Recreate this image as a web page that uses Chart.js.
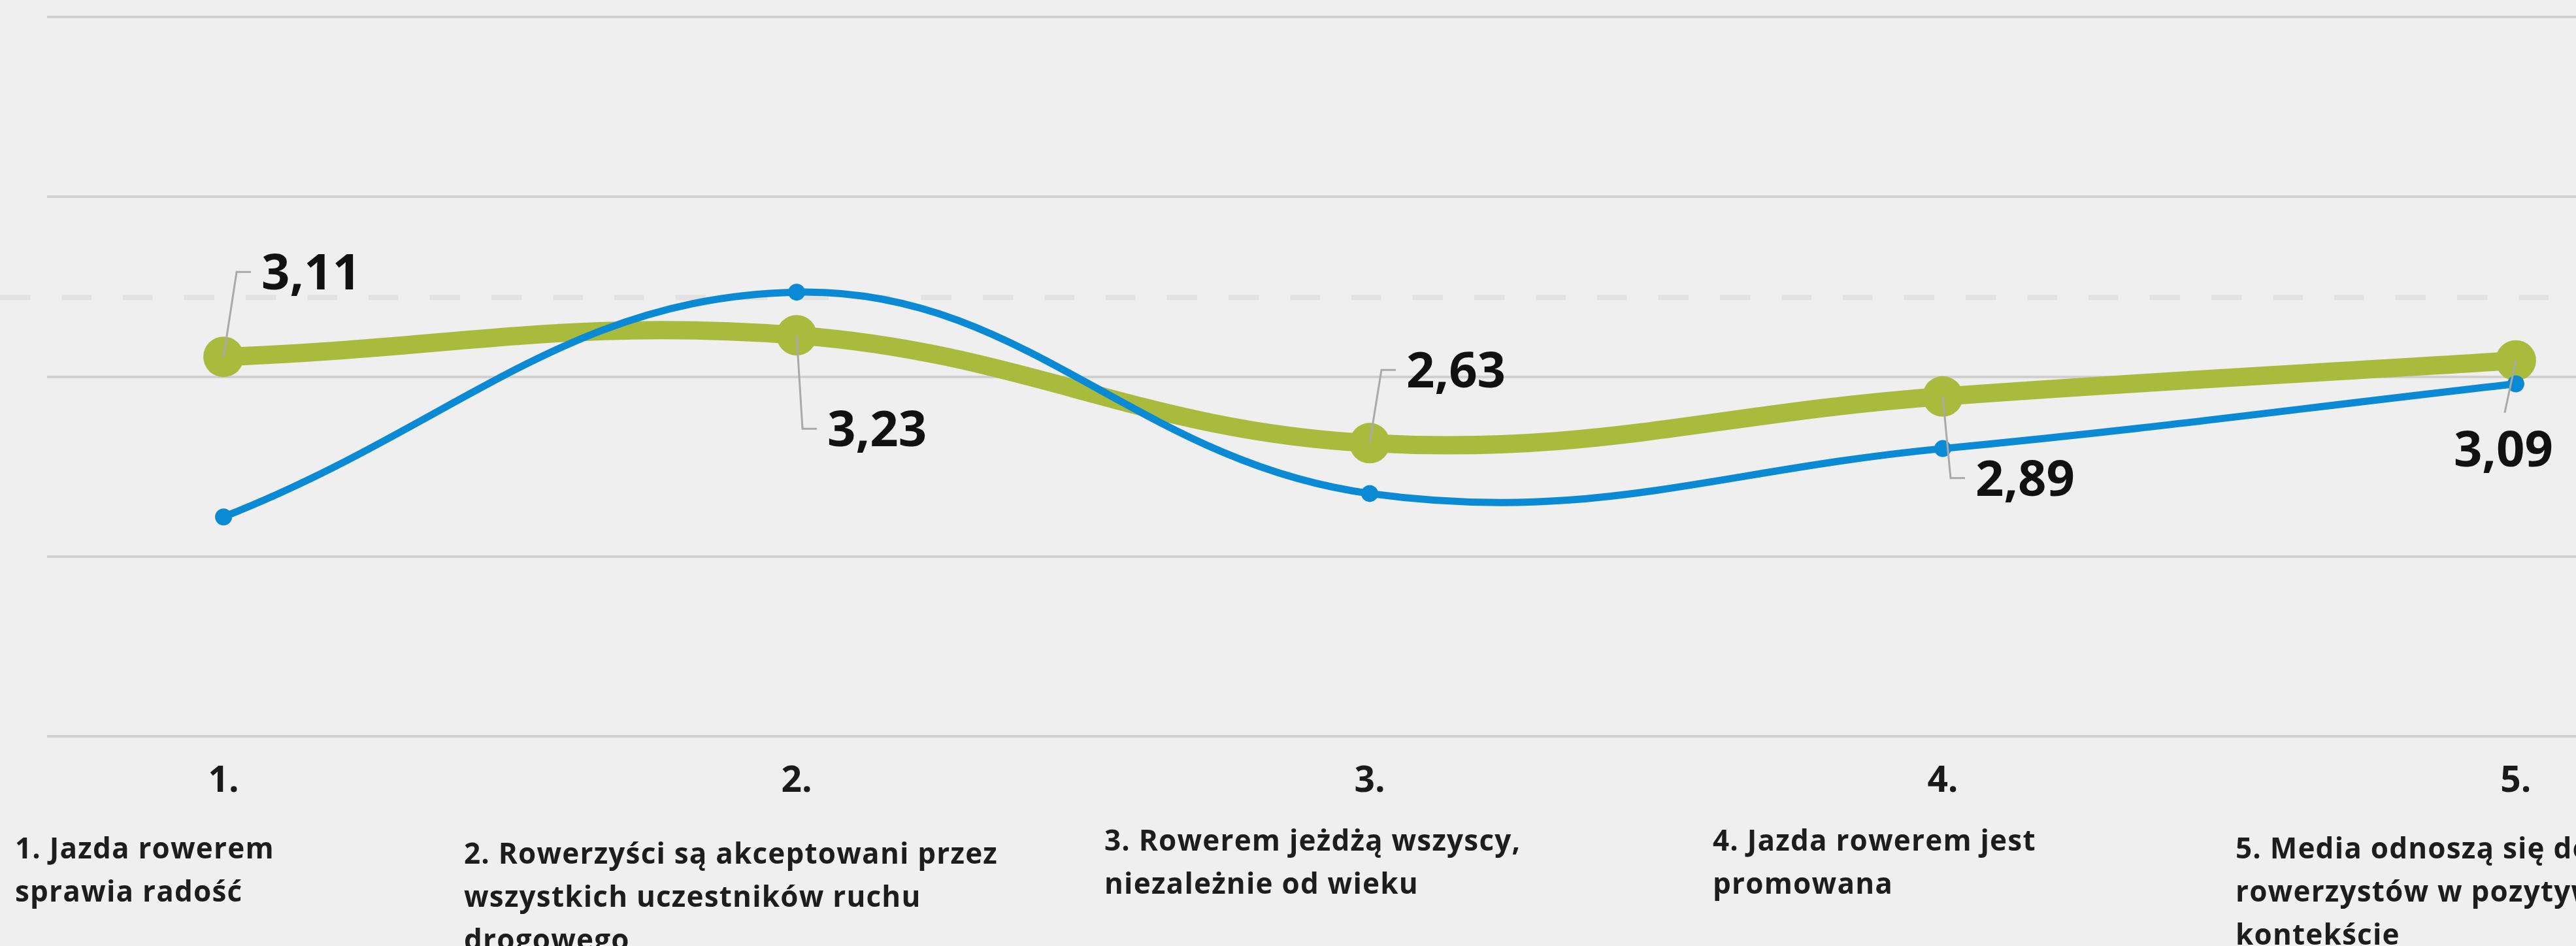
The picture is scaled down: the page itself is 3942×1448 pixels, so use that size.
<!DOCTYPE html>
<html lang="pl">
<head>
<meta charset="utf-8">
<script src="https://cdn.jsdelivr.net/npm/chart.js@4.4.1/dist/chart.umd.min.js"></script>
<style>
  html, body { margin: 0; padding: 0; background: #efefef; }
  body { width: 3942px; height: 1448px; overflow: hidden; position: relative; font-family: "Open Sans", sans-serif; }
  #wrap { position: absolute; left: 0; top: 0; width: 3942px; height: 1285px; }
  .desc { position: absolute; white-space: pre; font-size: 44px; font-weight: 700; line-height: 66px; color: #1d1d1d; letter-spacing: 1.2px; }
</style>
</head>
<body>
<div id="wrap"><canvas id="chart" width="3942" height="1285"></canvas></div>
<div id="descs"></div>
<script>
// dane
const CATEGORIES = ["1.", "2.", "3.", "4.", "5."];
const DESCRIPTIONS = [
  "1. Jazda rowerem\nsprawia radość",
  "2. Rowerzyści są akceptowani przez\nwszystkich uczestników ruchu\ndrogowego",
  "3. Rowerem jeżdżą wszyscy,\nniezależnie od wieku",
  "4. Jazda rowerem jest\npromowana",
  "5. Media odnoszą się do\nrowerzystów w pozytywnym\nkontekście",
];
const GREEN_VALUES = [3.11, 3.23, 2.63, 2.89, 3.09];
const BLUE_VALUES = [2.22, 3.47, 2.35, 2.60, 2.96];
const REFERENCE_VALUE = 3.44;

// ułożenie etykiet (odsunięcie od punktu w px)
const CALLOUTS = [
  { dx: 20, dy: -130, align: "left" },
  { dx: 9, dy: 143, align: "left" },
  { dx: 18, dy: -112, align: "left" },
  { dx: 12, dy: 125, align: "left" },
  { dx: -17, dy: 80, align: "center" },
];
const DESC_POS = [
  { left: 23, top: 1264 },
  { left: 710, top: 1272 },
  { left: 1690, top: 1252 },
  { left: 2621, top: 1252 },
  { left: 3421, top: 1264 },
];

function toPoints(values) {
  return values.map((v, i) => ({ x: i + 1, y: v }));
}

const referenceLine = {
  id: "referenceLine",
  beforeDatasetsDraw(chart) {
    const ctx = chart.ctx;
    const y = chart.scales.y.getPixelForValue(REFERENCE_VALUE);
    ctx.save();
    ctx.strokeStyle = "#e2e2e2";
    ctx.lineWidth = 8;
    ctx.setLineDash([46, 48]);
    ctx.beginPath();
    ctx.moveTo(0, y);
    ctx.lineTo(chart.width, y);
    ctx.stroke();
    ctx.restore();
  },
};

const callouts = {
  id: "callouts",
  afterDatasetsDraw(chart) {
    const ctx = chart.ctx;
    const meta = chart.getDatasetMeta(1);
    ctx.save();
    ctx.font = "700 76px 'Open Sans'";
    ctx.fillStyle = "#111";
    ctx.strokeStyle = "#a9a9a9";
    ctx.lineWidth = 3;
    ctx.textBaseline = "alphabetic";
    meta.data.forEach((pt, i) => {
      const c = CALLOUTS[i];
      const ex = pt.x + c.dx;
      const ey = pt.y + c.dy;
      const text = GREEN_VALUES[i].toFixed(2).replace(".", ",");
      ctx.beginPath();
      ctx.moveTo(pt.x, pt.y);
      ctx.lineTo(ex, ey);
      if (c.align === "left") ctx.lineTo(ex + 22, ey);
      ctx.stroke();
      if (c.align === "left") {
        ctx.textAlign = "left";
        ctx.fillText(text, ex + 38, ey + 27);
      } else {
        ctx.textAlign = "center";
        ctx.fillText(text, ex - 2, ey + 82);
      }
    });
    ctx.restore();
  },
};

new Chart(document.getElementById("chart"), {
  type: "line",
  data: {
    datasets: [
      {
        label: "Seria 1",
        data: toPoints(BLUE_VALUES),
        borderColor: "#0a8ad4",
        backgroundColor: "#0a8ad4",
        borderWidth: 11,
        pointRadius: 13,
        pointBorderWidth: 0,
        tension: 0.4,
      },
      {
        label: "Seria 2",
        data: toPoints(GREEN_VALUES),
        borderColor: "#a8bb3c",
        backgroundColor: "#a8bb3c",
        borderWidth: 28,
        pointRadius: 31,
        pointBorderWidth: 0,
        tension: 0.4,
      },
    ],
  },
  options: {
    responsive: false,
    animation: false,
    clip: false,
    layout: { autoPadding: false, padding: { left: 72, right: 0, top: 26, bottom: 20 } },
    plugins: { legend: { display: false }, tooltip: { enabled: false } },
    scales: {
      x: {
        type: "linear",
        min: 0.692,
        max: 5.105,
        grid: { display: false, drawTicks: false },
        border: { display: false },
        afterBuildTicks: (scale) => {
          scale.ticks = CATEGORIES.map((c, i) => ({ value: i + 1 }));
        },
        ticks: {
          autoSkip: false,
          maxRotation: 0,
          padding: 36,
          color: "#1a1a1a",
          font: { family: "'Open Sans'", size: 55, weight: "700" },
          callback: (v) => CATEGORIES[v - 1],
        },
      },
      y: {
        min: 1,
        max: 5,
        ticks: { display: false, stepSize: 1 },
        grid: { color: "#d0d0d0", lineWidth: 4, drawTicks: false },
        border: { display: false },
      },
    },
  },
  plugins: [referenceLine, callouts],
});

// opisy kategorii pod osią
const descBox = document.getElementById("descs");
DESCRIPTIONS.forEach((txt, i) => {
  const d = document.createElement("div");
  d.className = "desc";
  d.style.left = DESC_POS[i].left + "px";
  d.style.top = DESC_POS[i].top + "px";
  d.textContent = txt;
  descBox.appendChild(d);
});
</script>
</body>
</html>
